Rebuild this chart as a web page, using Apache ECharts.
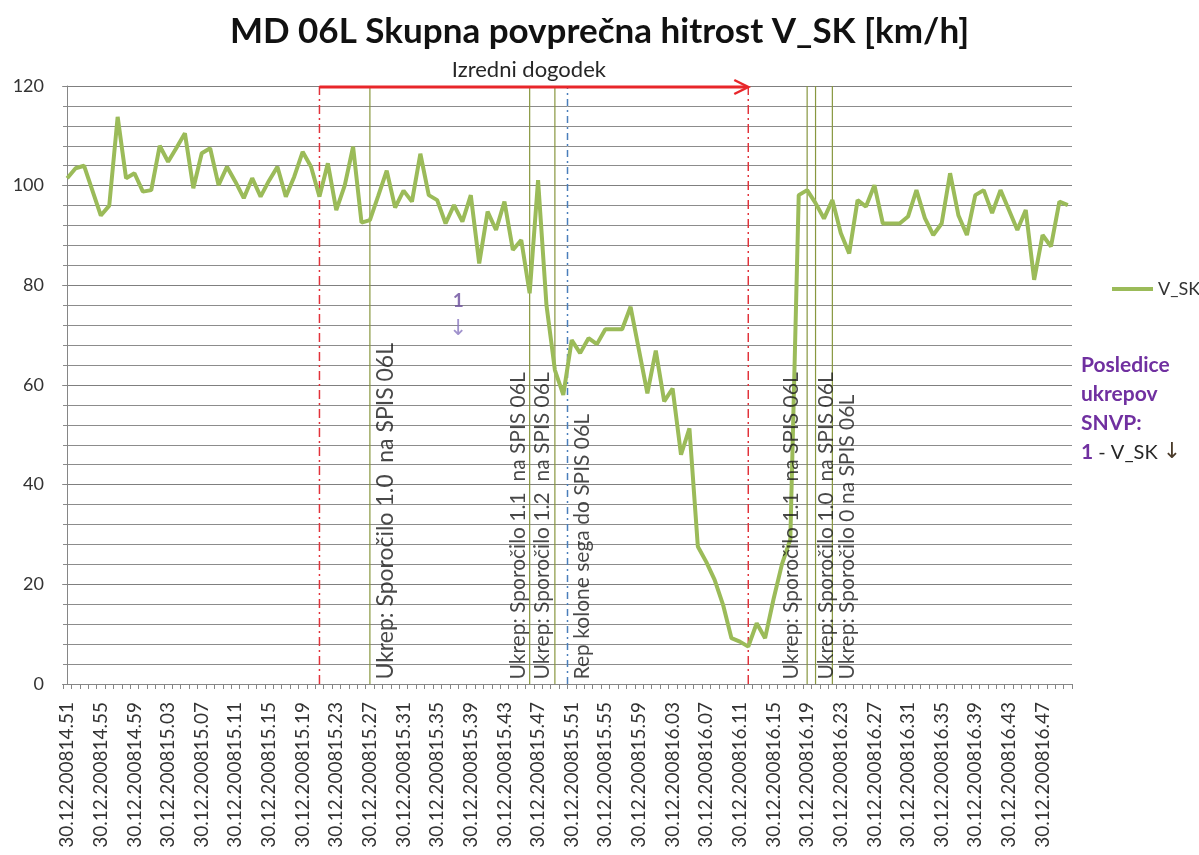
<!DOCTYPE html>
<html>
<head>
<meta charset="utf-8">
<title>MD 06L Skupna povprečna hitrost V_SK</title>
<script src="https://cdn.jsdelivr.net/npm/echarts@6/dist/echarts.min.js"></script>
<style>
  html, body { margin: 0; padding: 0; background: #ffffff; }
  #chart { width: 1199px; height: 855px; }
</style>
</head>
<body>
<div id="chart"></div>
<script>
// Measurement date and one-minute time stamps (hh.mm)
const measureDate = '30.12.2008';
const times = [
  '14.51','14.52','14.53','14.54','14.55','14.56','14.57','14.58','14.59',
  '15.00','15.01','15.02','15.03','15.04','15.05','15.06','15.07','15.08','15.09',
  '15.10','15.11','15.12','15.13','15.14','15.15','15.16','15.17','15.18','15.19',
  '15.20','15.21','15.22','15.23','15.24','15.25','15.26','15.27','15.28','15.29',
  '15.30','15.31','15.32','15.33','15.34','15.35','15.36','15.37','15.38','15.39',
  '15.40','15.41','15.42','15.43','15.44','15.45','15.46','15.47','15.48','15.49',
  '15.50','15.51','15.52','15.53','15.54','15.55','15.56','15.57','15.58','15.59',
  '16.00','16.01','16.02','16.03','16.04','16.05','16.06','16.07','16.08','16.09',
  '16.10','16.11','16.12','16.13','16.14','16.15','16.16','16.17','16.18','16.19',
  '16.20','16.21','16.22','16.23','16.24','16.25','16.26','16.27','16.28','16.29',
  '16.30','16.31','16.32','16.33','16.34','16.35','16.36','16.37','16.38','16.39',
  '16.40','16.41','16.42','16.43','16.44','16.45','16.46','16.47','16.48','16.49',
  '16.50'
];

// Average speed V_SK [km/h], one value per minute
const vSK = [
  101.5, 103.5, 104.0, 99.0, 94.0, 96.0, 113.8, 101.5, 102.5, 98.8,
  99.1, 108.0, 104.8, 107.6, 110.5, 99.5, 106.5, 107.5, 100.1, 103.8,
  100.8, 97.5, 101.5, 97.8, 101.0, 103.8, 97.8, 101.8, 106.8, 103.8,
  97.8, 104.5, 95.1, 100.0, 107.8, 92.6, 93.1, 98.0, 103.0, 95.6,
  99.0, 96.8, 106.4, 98.1, 97.1, 92.4, 96.1, 92.8, 98.1, 84.4,
  94.8, 91.1, 96.8, 87.1, 89.1, 78.4, 101.1, 76.0, 63.0, 58.0,
  69.0, 66.4, 69.4, 68.2, 71.2, 71.2, 71.2, 75.7, 67.0, 58.3,
  66.9, 56.7, 59.3, 46.0, 51.3, 27.6, 24.5, 20.9, 15.9, 9.2,
  8.5, 7.5, 12.2, 9.2, 17.0, 24.0, 29.0, 98.1, 99.1, 96.5,
  93.4, 97.1, 90.5, 86.4, 97.1, 95.8, 100.1, 92.4, 92.4, 92.4,
  93.8, 99.1, 93.5, 90.1, 92.4, 102.5, 94.0, 90.1, 98.1, 99.1,
  94.5, 99.1, 95.1, 91.1, 95.1, 81.1, 90.1, 87.8, 96.8, 96.1
];

// Events, positioned on the minute index (0 = 14.51)
const eventAt = [30, 36, 55, 58, 59.5, 81, 88, 89, 91];
const eventKind = ['incident', 'measure', 'measure', 'measure', 'queue', 'incident', 'measure', 'measure', 'measure'];
const eventText = [
  '',
  'Ukrep: Sporočilo 1.0  na SPIS 06L',
  'Ukrep: Sporočilo 1.1  na SPIS 06L',
  'Ukrep: Sporočilo 1.2  na SPIS 06L',
  'Rep kolone sega do SPIS 06L',
  '',
  'Ukrep: Sporočilo 1.1  na SPIS 06L',
  'Ukrep: Sporočilo 1.0  na SPIS 06L',
  'Ukrep: Sporočilo 0 na SPIS 06L'
];

// Incident span (start index, end index, speed level)
const incidentSpan = [30, 81, 120];
const incidentLabel = 'Izredni dogodek';

// Marker "1 ↓" inside the plot (index, speed level)
const effectMarker = [46.5, 74];

const yTicks = { min: 0, max: 120, step: 20 };

const categories = times.map(t => measureDate + t);

const FONT = 'Lato, "Open Sans", "DejaVu Sans", sans-serif';
const TXT = '#333333';

const kindStyle = {
  incident: { color: '#e2323a', width: 1.5, type: [9, 4, 2, 4] },
  measure:  { color: '#88973f', width: 1.2, type: 'solid' },
  queue:    { color: '#4a7ebb', width: 1.5, type: [7, 4, 2, 4] }
};
// horizontal shift of each event caption from its line (px) and its font size
const captionShift = [0, 16, -11, -12, 15, 0, -15, 11, 15];
const captionSize = [21, 23, 21, 21, 21, 21, 21, 21, 21];

const eventLineSeries = eventAt.map((at, i) => {
  const st = kindStyle[eventKind[i]];
  return {
    type: 'line',
    xAxisIndex: 1,
    yAxisIndex: 0,
    data: [[at, yTicks.min], [at, yTicks.max]],
    symbol: 'none',
    silent: true,
    z: 1,
    lineStyle: { color: st.color, width: st.width, type: st.type },
    emphasis: { disabled: true }
  };
});

const captionSeries = {
  type: 'scatter',
  xAxisIndex: 1,
  yAxisIndex: 0,
  silent: true,
  symbolSize: 1,
  itemStyle: { color: 'rgba(0,0,0,0)' },
  z: 5,
  data: eventAt.map((at, i) => ({
    value: [at, 0],
    label: {
      show: eventText[i] !== '',
      formatter: eventText[i],
      rotate: 90,
      position: [captionShift[i], -4],
      align: 'left',
      verticalAlign: 'middle',
      fontFamily: FONT,
      fontSize: captionSize[i],
      color: '#1a1a1a'
    }
  }))
};

const arrowSeries = {
  type: 'custom',
  xAxisIndex: 1,
  yAxisIndex: 0,
  silent: true,
  clip: false,
  z: 6,
  data: [incidentSpan],
  encode: { x: [0, 1], y: 2 },
  renderItem: function (params, api) {
    const s = api.coord([api.value(0), api.value(2)]);
    const e = api.coord([api.value(1), api.value(2)]);
    const red = '#e8262a';
    return {
      type: 'group',
      children: [
        { type: 'line', shape: { x1: s[0], y1: s[1] + 1, x2: e[0] - 2, y2: e[1] + 1 },
          style: { stroke: red, lineWidth: 3 } },
        { type: 'polyline', shape: { points: [[e[0] - 14, e[1] - 6], [e[0], e[1] + 1], [e[0] - 14, e[1] + 8]] },
          style: { stroke: red, lineWidth: 2.5, fill: null } },
        { type: 'text', style: { text: incidentLabel, x: (s[0] + e[0]) / 2 - 5, y: s[1] - 5,
          align: 'center', verticalAlign: 'bottom', fill: '#262626', font: '22px ' + FONT } }
      ]
    };
  }
};

const markerSeries = {
  type: 'scatter',
  xAxisIndex: 1,
  yAxisIndex: 0,
  silent: true,
  symbolSize: 1,
  itemStyle: { color: 'rgba(0,0,0,0)' },
  data: [{
    value: effectMarker,
    label: {
      show: true,
      position: 'inside',
      formatter: '{n|1}\n{a|↓}',
      align: 'center',
      rich: {
        n: { fontFamily: FONT, fontWeight: 'bold', fontSize: 19, color: '#6a4c9c', lineHeight: 28 },
        a: { fontFamily: '"DejaVu Sans", sans-serif', fontSize: 22, color: '#8a78c0', lineHeight: 28 }
      }
    }
  }]
};

const chart = echarts.init(document.getElementById('chart'), null, { renderer: 'canvas' });

chart.setOption({
  backgroundColor: '#ffffff',
  animation: false,
  textStyle: { fontFamily: FONT },
  title: {
    text: 'MD 06L Skupna povprečna hitrost V_SK [km/h]',
    left: 'center',
    top: 9,
    textStyle: { fontFamily: FONT, fontSize: 35, fontWeight: 'bold', color: '#111111' }
  },
  legend: {
    data: ['V_SK'],
    left: 1107,
    top: 275,
    icon: 'rect',
    itemWidth: 41,
    itemHeight: 4,
    itemGap: 4,
    textStyle: { fontFamily: FONT, fontSize: 18, color: TXT }
  },
  grid: { left: 63, right: 127, top: 86, bottom: 171, containLabel: false },
  xAxis: [
    {
      type: 'category',
      data: categories,
      boundaryGap: true,
      axisLine: { lineStyle: { color: '#868686', width: 1 } },
      axisTick: { show: true, interval: 0, length: 5, alignWithLabel: false, lineStyle: { color: '#868686' } },
      axisLabel: {
        interval: 3,
        rotate: 90,
        margin: 18,
        fontFamily: FONT,
        fontSize: 19,
        color: TXT
      },
      splitLine: { show: false }
    },
    {
      type: 'value',
      min: -0.5,
      max: times.length - 0.5,
      show: false,
      splitLine: { show: false }
    }
  ],
  yAxis: {
    type: 'value',
    min: yTicks.min,
    max: yTicks.max,
    interval: yTicks.step,
    axisLine: { show: true, lineStyle: { color: '#868686' } },
    axisTick: { show: true, length: 5, lineStyle: { color: '#868686' } },
    axisLabel: { margin: 19, fontFamily: FONT, fontSize: 18, color: TXT },
    splitLine: { show: true, lineStyle: { color: '#7f7f7f', width: 1 } },
    minorTick: { show: false, splitNumber: 5 },
    minorSplitLine: { show: true, lineStyle: { color: '#8c8c8c', width: 1 } }
  },
  series: [
    ...eventLineSeries,
    {
      name: 'V_SK',
      type: 'line',
      xAxisIndex: 0,
      yAxisIndex: 0,
      data: vSK,
      symbol: 'none',
      z: 3,
      lineStyle: { color: '#9bbb59', width: 4 },
      itemStyle: { color: '#9bbb59' }
    },
    captionSeries,
    arrowSeries,
    markerSeries
  ],
  graphic: [
    {
      type: 'text',
      left: 1081,
      top: 355,
      style: {
        text: '{p|Posledice}\n{p|ukrepov}\n{p|SNVP:}\n{p|1}{n| - V_SK }{a|↓}',
        rich: {
          p: { fontFamily: FONT, fontWeight: 'bold', fontSize: 21, fill: '#7030a0', lineHeight: 29 },
          n: { fontFamily: FONT, fontSize: 20, fill: '#262626', lineHeight: 29 },
          a: { fontFamily: '"DejaVu Sans", sans-serif', fontSize: 22, fill: '#4a3b2a', lineHeight: 29 }
        }
      }
    }
  ]
});
</script>
</body>
</html>
